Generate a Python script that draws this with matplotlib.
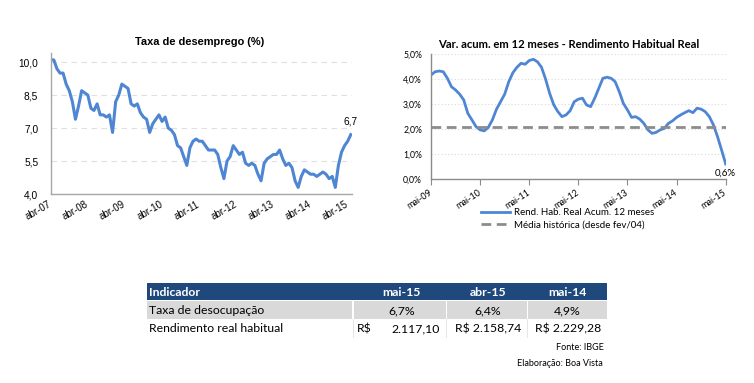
import matplotlib.pyplot as plt
from matplotlib.patches import Rectangle

# Taxa de desemprego (%) - mensal, abr-07 a mai-15
desemprego = [10.1, 10.1, 9.7, 9.5, 9.5, 9.0, 8.7, 8.2, 7.4,
              8.0, 8.7, 8.6, 8.5, 7.9, 7.8, 8.1, 7.6, 7.6, 7.5, 7.6, 6.8,
              8.2, 8.5, 9.0, 8.9, 8.8, 8.1, 8.0, 8.1, 7.7, 7.5, 7.4, 6.8,
              7.2, 7.4, 7.6, 7.3, 7.5, 7.0, 6.9, 6.7, 6.2, 6.1, 5.7, 5.3,
              6.1, 6.4, 6.5, 6.4, 6.4, 6.2, 6.0, 6.0, 6.0, 5.8, 5.2, 4.7,
              5.5, 5.7, 6.2, 6.0, 5.8, 5.9, 5.4, 5.3, 5.4, 5.3, 4.9, 4.6,
              5.4, 5.6, 5.7, 5.8, 5.8, 6.0, 5.6, 5.3, 5.4, 5.2, 4.6, 4.3,
              4.8, 5.1, 5.0, 4.9, 4.9, 4.8, 4.9, 5.0, 4.9, 4.7, 4.8, 4.3,
              5.3, 5.9, 6.2, 6.4, 6.7]
desemp_ticks = ['abr-07', 'abr-08', 'abr-09', 'abr-10', 'abr-11', 'abr-12', 'abr-13', 'abr-14', 'abr-15']

# Var. acumulada 12 meses do rendimento habitual real (%) - mai-09 a mai-15
rendimento = [4.17, 4.30, 4.33, 4.30, 4.04, 3.70, 3.57, 3.40, 3.17, 2.63, 2.37, 2.10,
              1.97, 1.93, 2.07, 2.37, 2.80, 3.10, 3.40, 3.90, 4.26, 4.48, 4.64, 4.60,
              4.75, 4.80, 4.70, 4.48, 4.00, 3.43, 2.97, 2.70, 2.50, 2.57, 2.74, 3.10,
              3.20, 3.24, 2.97, 2.90, 3.24, 3.64, 4.04, 4.08, 4.04, 3.90, 3.50, 3.03,
              2.77, 2.47, 2.50, 2.40, 2.23, 1.97, 1.83, 1.87, 1.97, 2.03, 2.23, 2.33,
              2.47, 2.57, 2.66, 2.74, 2.66, 2.84, 2.80, 2.70, 2.50, 2.17, 1.70, 1.16,
              0.60]
media_historica = 2.1
rend_ticks = ['mai-09', 'mai-10', 'mai-11', 'mai-12', 'mai-13', 'mai-14', 'mai-15']

# Tabela
tab_header = ['Indicador', 'mai-15', 'abr-15', 'mai-14']
tab_linha1 = ['Taxa de desocupação', '6,7%', '6,4%', '4,9%']
tab_linha2 = ['Rendimento real habitual', '2.117,10', 'R$ 2.158,74', 'R$ 2.229,28']

W, H = 754, 383
azul = '#4F86D3'
cinza_eixo = '#A6A6A6'


def ax_px(fig, x0, y0, x1, y1):                       # cria eixo a partir de pixels (topo-esquerda)
    return fig.add_axes([x0 / W, 1 - y1 / H, (x1 - x0) / W, (y1 - y0) / H])


fig = plt.figure(figsize=(W / 100, H / 100), dpi=100)

# ---- grafico da esquerda ----
ax1 = ax_px(fig, 50.7, 53.3, 351.7, 194)
x1 = list(range(len(desemprego)))
ax1.plot(x1, desemprego, color=azul, lw=2.2, solid_joinstyle='round')
ax1.set_xlim(0, 97.3)
ax1.set_ylim(4, 10.4)
ax1.set_yticks([4.0, 5.5, 7.0, 8.5, 10.0])
ax1.set_yticklabels(['4,0', '5,5', '7,0', '8,5', '10,0'], fontsize=7.3, family='Liberation Sans')
ax1.set_xticks(range(0, 97, 12))
ax1.set_xticklabels(desemp_ticks, fontsize=7, family='Liberation Sans', rotation=30,
                    ha='right', va='center', rotation_mode='anchor')
ax1.tick_params(axis='y', length=0, pad=9)
ax1.tick_params(axis='x', length=0, pad=7)
for v in [5.5, 7.0, 8.5, 10.0]:
    ax1.axhline(v, color='#E0E0E0', lw=0.8, ls=(0, (5, 4)), zorder=0)
for s in ['top', 'right']:
    ax1.spines[s].set_visible(False)
for s in ['left', 'bottom']:
    ax1.spines[s].set_color(cinza_eixo)
    ax1.spines[s].set_linewidth(1.0)
ax1.annotate('6,7', (97, desemprego[-1]), xytext=(0, 6), textcoords='offset points',
             ha='center', va='bottom', fontsize=7.3, family='Liberation Sans')
fig.text(200 / W, 1 - 42 / H, 'Taxa de desemprego (%)', ha='center', va='center',
         fontsize=7.9, fontweight='bold', family='Liberation Sans')

# ---- grafico da direita ----
ax2 = ax_px(fig, 431, 54.3, 725.7, 179)
x2 = list(range(len(rendimento)))
ax2.plot(x2, rendimento, color=azul, lw=2.0, solid_joinstyle='round',
         label='Rend. Hab. Real Acum. 12 meses')
ax2.plot([0, 72], [media_historica, media_historica], color='#8C8C8C', lw=2.0,
         ls=(0, (3.5, 2)), label='Média histórica (desde fev/04)')
ax2.set_xlim(0, 72)
ax2.set_ylim(0, 5)
ax2.set_yticks([0, 1, 2, 3, 4, 5])
ax2.set_yticklabels(['0,0%', '1,0%', '2,0%', '3,0%', '4,0%', '5,0%'], fontsize=6.2, family='Lato')
ax2.set_xticks(range(0, 73, 12))
ax2.set_xticklabels(rend_ticks, fontsize=6.5, family='Lato', rotation=33,
                    ha='right', va='center', rotation_mode='anchor')
ax2.tick_params(axis='y', length=0, pad=6.5)
ax2.tick_params(axis='x', length=4, direction='out', color='#8C8C8C', pad=5)
for v in [1, 2, 3, 4, 5]:
    ax2.axhline(v, color='#D9D9D9', lw=0.8, ls=(0, (1, 2)), zorder=0)
for s in ['top', 'right']:
    ax2.spines[s].set_visible(False)
for s in ['left', 'bottom']:
    ax2.spines[s].set_color('#8C8C8C')
    ax2.spines[s].set_linewidth(1.0)
ax2.annotate('0,6%', (72, rendimento[-1]), xytext=(0, -3), textcoords='offset points',
             ha='center', va='top', fontsize=7, family='Lato')
fig.text(569 / W, 1 - 45 / H, 'Var. acum. em 12 meses - Rendimento Habitual Real', ha='center',
         va='center', fontsize=8.1, fontweight='bold', family='Lato')
ax2.legend(loc='upper left', bbox_to_anchor=(481 / W, 1 - 208 / H), bbox_transform=fig.transFigure,
           frameon=False, prop={'family': 'Lato', 'size': 7}, handlelength=3.0,
           handletextpad=0.4, labelspacing=0.35, borderaxespad=0, borderpad=0)

# ---- tabela ----
def rect_px(x0, y0, x1, y1, cor):
    fig.patches.append(Rectangle((x0 / W, 1 - y1 / H), (x1 - x0) / W, (y1 - y0) / H,
                                 transform=fig.transFigure, facecolor=cor, edgecolor='none'))


def txt_px(x, y, s, **kw):
    fig.text(x / W, 1 - y / H, s, va='center', family='Lato', fontsize=8.8, **kw)


col_div = [146.7, 353, 446.7, 527.3, 606.7]
col_cx = [None, 401.7, 488, 567.7]
rect_px(146.7, 283.3, 606.7, 300.3, '#1F497D')
rect_px(146.7, 301.3, 606.7, 319.3, '#D9D9D9')
for xd in col_div[1:4]:
    rect_px(xd - 0.7, 301.3, xd + 0.7, 319.3, 'white')
    rect_px(xd - 0.5, 319.3, xd + 0.5, 338, '#E6E6E6')

txt_px(149, 292, tab_header[0], color='white', fontweight='bold')
for k in range(1, 4):
    txt_px(col_cx[k], 292, tab_header[k], color='white', fontweight='bold', ha='center')
txt_px(149, 310.5, tab_linha1[0])
for k in range(1, 4):
    txt_px(col_cx[k], 310.5, tab_linha1[k], ha='center')
txt_px(149, 329, tab_linha2[0])
txt_px(357, 329, 'R$')
txt_px(440, 329, tab_linha2[1], ha='right')
for k in range(2, 4):
    txt_px(col_cx[k], 329, tab_linha2[k], ha='center')

fig.text(604 / W, 1 - 348 / H, 'Fonte: IBGE', ha='right', va='center', family='Lato', fontsize=6.5)
fig.text(603 / W, 1 - 364 / H, 'Elaboração: Boa Vista', ha='right', va='center', family='Lato', fontsize=6.5)

fig.savefig('out.png', dpi=100)
